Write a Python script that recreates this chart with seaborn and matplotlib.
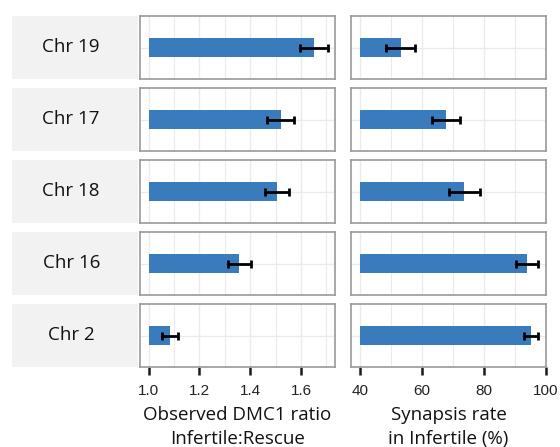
import matplotlib
matplotlib.use("Agg")
import matplotlib.pyplot as plt
import seaborn as sns
import numpy as np

# ---- data ----
chroms = ["Chr 19", "Chr 17", "Chr 18", "Chr 16", "Chr 2"]
dmc1_ratio = [1.65, 1.52, 1.505, 1.357, 1.084]
dmc1_err = [0.055, 0.054, 0.048, 0.046, 0.033]
synapsis_rate = [53.2, 67.8, 73.7, 93.9, 95.2]
synapsis_err = [4.6, 4.6, 4.9, 3.5, 2.3]

dmc1_ticks = [1.0, 1.2, 1.4, 1.6]
dmc1_minor = [1.1, 1.3, 1.5, 1.7]
syn_ticks = [40, 60, 80, 100]
syn_minor = [50, 70, 90]

sns.set_theme(style="white")
plt.rcParams["font.family"] = ["Liberation Sans", "DejaVu Sans"]

W, H = 560, 447
fig = plt.figure(figsize=(W / 100, H / 100), dpi=100)


def rect(x0, x1, y0, y1):
    return [x0 / W, 1 - y1 / H, (x1 - x0) / W, (y1 - y0) / H]


bar_color = "#3a7bbd"
frame_color = "#9a9a9a"
grid_color = "#ebebeb"
label_font = ["Open Sans", "DejaVu Sans"]

panels = [
    dict(x0=140, x1=335, vals=dmc1_ratio, errs=dmc1_err, base=1.0,
         xlim=(0.966, 1.734), ticks=dmc1_ticks, minor=dmc1_minor,
         fmt="{:.1f}", title="Observed DMC1 ratio\nInfertile:Rescue"),
    dict(x0=351, x1=546, vals=synapsis_rate, errs=synapsis_err, base=40,
         xlim=(37.2, 100.0), ticks=syn_ticks, minor=syn_minor,
         fmt="{:d}", title="Synapsis rate\nin Infertile (%)"),
]

row_h = 63
for i, chrom in enumerate(chroms):
    top = 16 + 72 * i
    bot = top + row_h
    # strip
    sax = fig.add_axes(rect(12, 138, top, bot))
    sax.set_facecolor("#f2f2f2")
    for s in sax.spines.values():
        s.set_visible(False)
    sax.set_xticks([])
    sax.set_yticks([])
    sax.text(0.47, 0.5, chrom, transform=sax.transAxes, ha="center", va="center",
             fontsize=13.5, family=label_font, color="#111111")

    for p in panels:
        ax = fig.add_axes(rect(p["x0"], p["x1"], top, bot))
        ax.set_axisbelow(True)
        val = p["vals"][i]
        err = p["errs"][i]
        sns.barplot(x=[val - p["base"]], y=[chrom], orient="h", color=bar_color,
                    saturation=1, width=0.3, errorbar=None, left=p["base"], ax=ax,
                    linewidth=0)
        ax.errorbar([val], [0], xerr=[err], fmt="none", ecolor="black",
                    elinewidth=2.0, capsize=3.0, capthick=2.0, zorder=5)
        ax.set_xlim(*p["xlim"])
        ax.set_ylim(0.5, -0.5)
        ax.set_xticks(p["ticks"])
        ax.set_xticks(p["minor"], minor=True)
        ax.set_yticks([0])
        ax.set_yticklabels([])
        ax.set_ylabel("")
        ax.set_xlabel("")
        ax.grid(True, which="major", axis="both", color=grid_color, lw=1.0)
        ax.grid(True, which="minor", axis="x", color=grid_color, lw=0.8)
        ax.tick_params(axis="y", length=0)
        ax.tick_params(axis="x", which="minor", length=0)
        for s in ax.spines.values():
            s.set_visible(True)
            s.set_color(frame_color)
            s.set_linewidth(1.2)
        if i == len(chroms) - 1:
            ax.set_xticklabels([p["fmt"].format(t) for t in p["ticks"]])
            ax.tick_params(axis="x", which="major", length=6, width=1.8,
                           color="#1a1a1a", labelsize=11, labelcolor="#222222",
                           pad=6, bottom=True)
            cx = (p["x0"] + p["x1"]) / 2
            fig.text(cx / W, 1 - 427 / H, p["title"], ha="center", va="center",
                     fontsize=13.5, linespacing=1.4,
                     family=label_font, color="#111111")
        else:
            ax.set_xticklabels([])
            ax.tick_params(axis="x", which="major", length=0)

fig.savefig("out.png", dpi=100)
